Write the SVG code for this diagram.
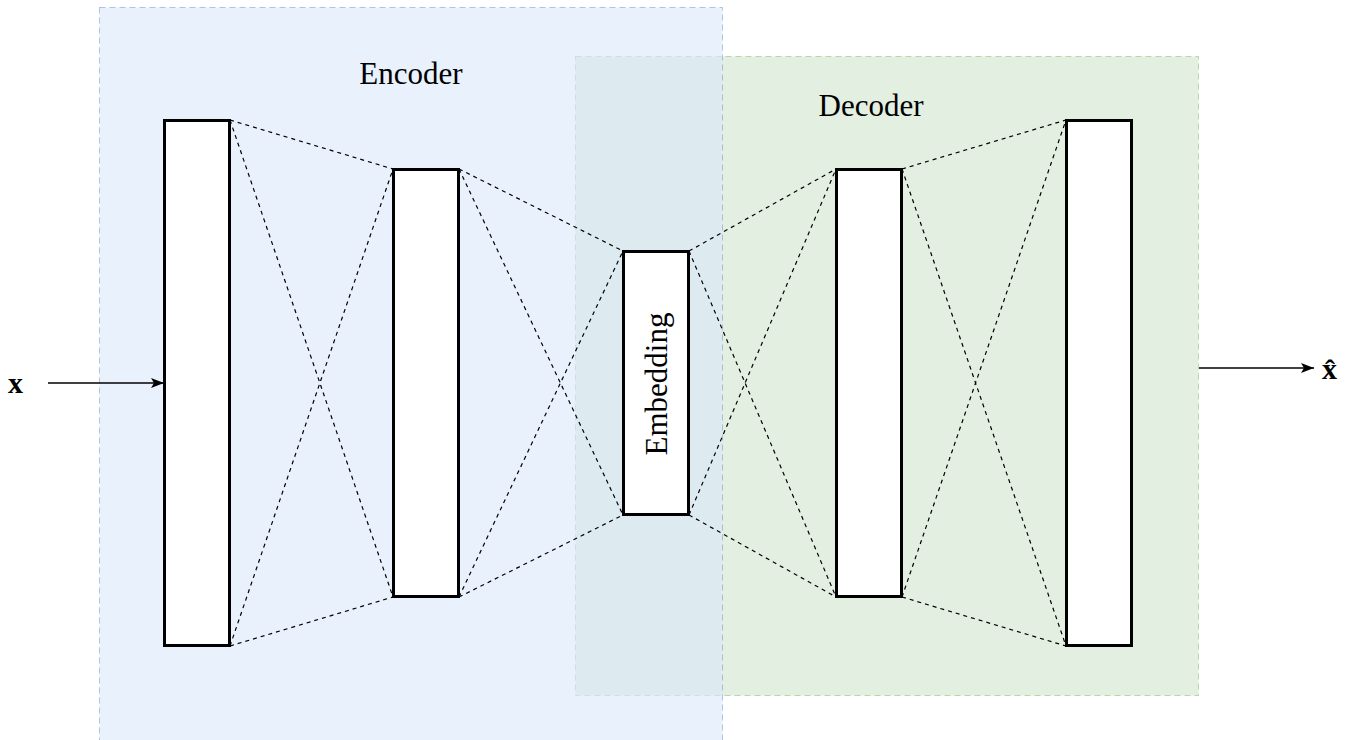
<svg xmlns="http://www.w3.org/2000/svg" width="1352" height="740" viewBox="0 0 1352 740">
<defs>
<marker id="ah" markerWidth="14" markerHeight="10" refX="13" refY="5" orient="auto" markerUnits="userSpaceOnUse">
<path d="M0,0 L13,5 L0,10 L3,5 Z" fill="#000"/>
</marker>
<style>
.lay{fill:#fff;stroke:#000;stroke-width:3}
.con{stroke:#000;stroke-width:1.2;stroke-dasharray:4 4;fill:none}
.lbl{font-family:"Liberation Serif",serif;font-size:31px;fill:#000}
</style>
</defs>
<rect width="1352" height="740" fill="#fff"/>
<g id="decoder">
<rect x="575.5" y="56.5" width="623" height="639" fill="#d5e8d4" fill-opacity="0.7" stroke="#82b366" stroke-opacity="0.5" stroke-dasharray="6 4"/>
<text class="lbl" x="871" y="116" text-anchor="middle">Decoder</text>
</g>
<g id="encoder">
<rect x="99.5" y="7.5" width="623" height="740" fill="#dae8fc" fill-opacity="0.6" stroke="#6c8ebf" stroke-opacity="0.5" stroke-dasharray="6 4"/>
<text class="lbl" x="411" y="84" text-anchor="middle">Encoder</text>
</g>
<g id="connectors">
<path class="con" d="M230,120 L393,169 M230,120 L393,597 M230,646 L393,597 M230,646 L393,169"/>
<path class="con" d="M459,169 L623,251 M459,169 L623,515 M459,597 L623,515 M459,597 L623,251"/>
<path class="con" d="M689,251 L836,169 M689,251 L836,597 M689,515 L836,597 M689,515 L836,169"/>
<path class="con" d="M902,169 L1066,120 M902,169 L1066,646 M902,597 L1066,646 M902,597 L1066,120"/>
<line x1="48" y1="383" x2="164" y2="383" stroke="#000" stroke-width="1.5" marker-end="url(#ah)"/>
<line x1="1199" y1="368" x2="1314" y2="368" stroke="#000" stroke-width="1.5" marker-end="url(#ah)"/>
</g>
<g id="layer1"><rect class="lay" x="164.5" y="120.5" width="65" height="525"/></g>
<g id="layer2"><rect class="lay" x="393.5" y="169.5" width="65" height="427"/></g>
<g id="embedding"><rect class="lay" x="623.5" y="251.5" width="65" height="263"/>
<text class="lbl" transform="translate(667,384) rotate(-90)" text-anchor="middle">Embedding</text></g>
<g id="layer4"><rect class="lay" x="836.5" y="169.5" width="65" height="427"/></g>
<g id="layer5"><rect class="lay" x="1066.5" y="120.5" width="65" height="525"/></g>
<g id="input"><text x="8" y="393" font-family="Liberation Serif,serif" font-weight="bold" font-size="30">x</text></g>
<g id="output"><text x="1322" y="379" font-family="Liberation Serif,serif" font-weight="bold" font-size="30">x̂</text></g>
</svg>
